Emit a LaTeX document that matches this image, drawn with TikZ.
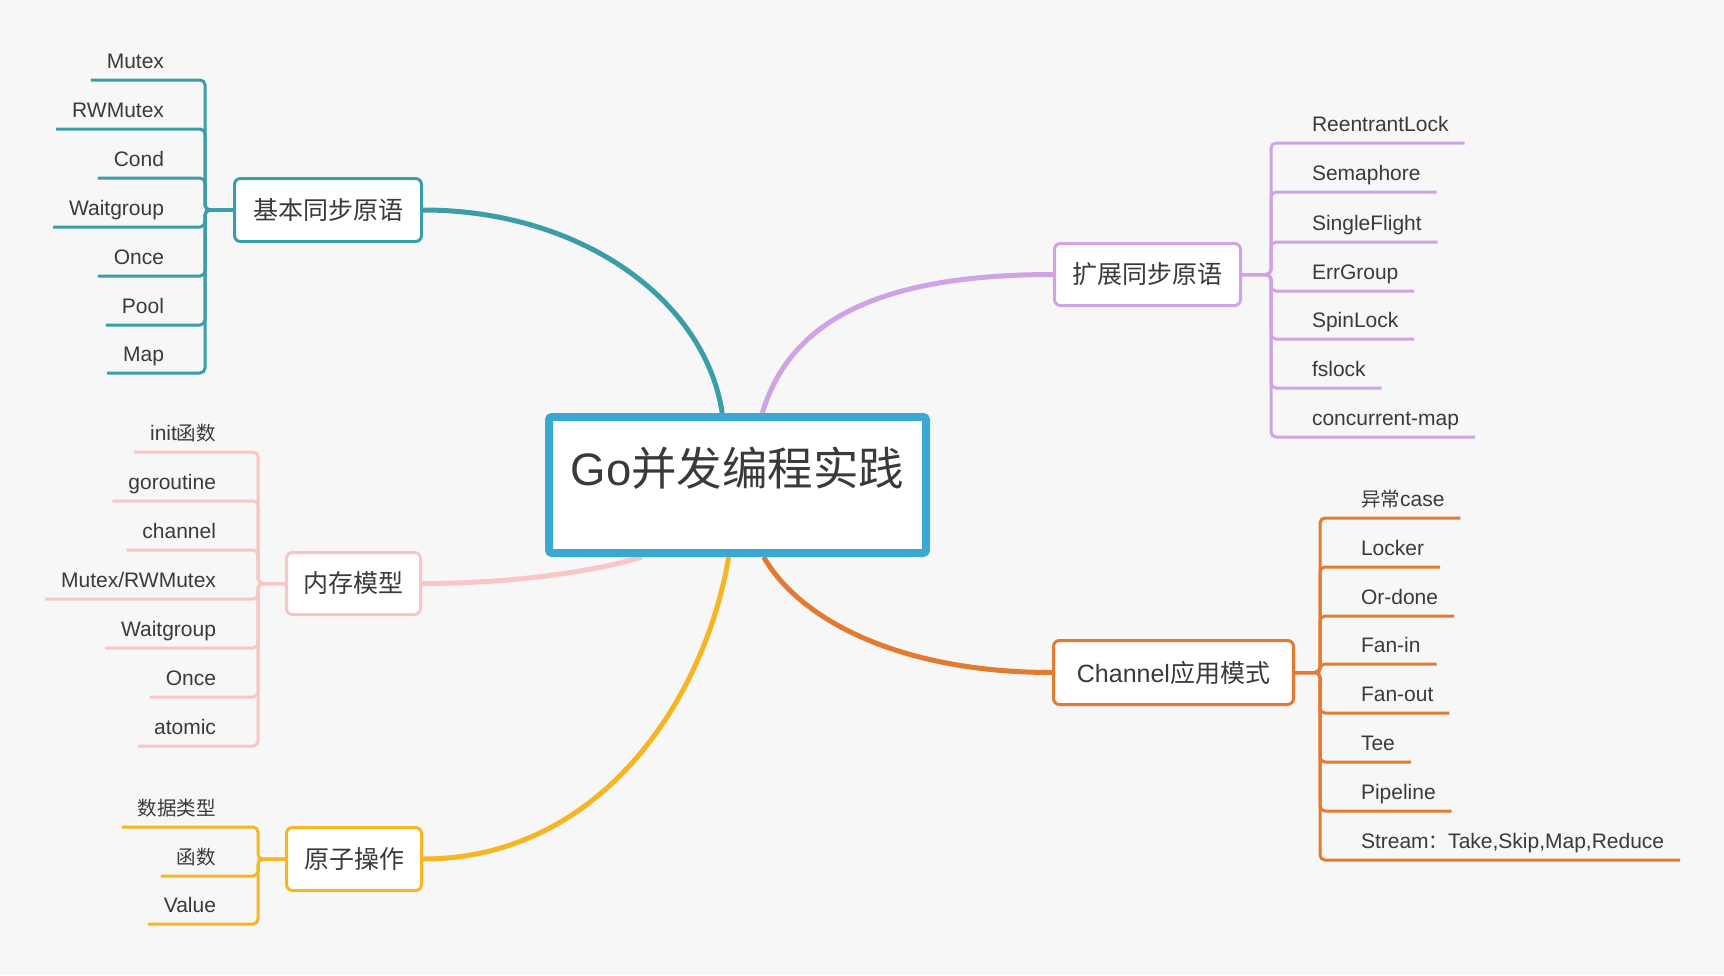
\documentclass[tikz,border=0pt]{standalone}
\usepackage{fontspec}
\setmainfont{Liberation Sans}
\newfontfamily\cjk{Noto Sans CJK SC}
\newfontfamily\cjkleaf[Scale=0.93]{Noto Sans CJK SC}
\usepackage{tikz}
\pgfdeclarelayer{bg}
\pgfsetlayers{bg,main}
\definecolor{paper}{HTML}{F7F7F7}
\definecolor{ink}{HTML}{3A3A3A}
\definecolor{rootblue}{HTML}{3BA8D1}
\definecolor{tealc}{HTML}{3A9DA8}
\definecolor{lilac}{HTML}{D0A2E6}
\definecolor{rose}{HTML}{F9C6C6}
\definecolor{amber}{HTML}{F6B624}
\definecolor{rust}{HTML}{E47A30}

\begin{document}
\begin{tikzpicture}[x=1pt, y=-1pt,
	topic/.style={draw=#1, line width=3pt, fill=white, rounded corners=6pt,
		text=ink, font=\fontsize{25}{30}\selectfont, inner sep=0pt},
	leaf/.style={text=ink, font=\fontsize{21}{25}\selectfont, inner xsep=16pt,
		inner ysep=7pt, outer sep=0pt, text height=15pt, text depth=5pt},
	twig/.style={draw=#1, line width=3pt, rounded corners=5pt},
	limb/.style={draw=#1, line width=5pt}]

\begin{pgfonlayer}{bg}
\useasboundingbox (0, 0) rectangle (1724, 975);
\fill[paper] (0, 0) rectangle (1724, 975);
\end{pgfonlayer}

% centre
\node[draw=rootblue, line width=8pt, fill=white, rounded corners=3pt,
	minimum width=377pt, minimum height=136pt, text=ink,
	font=\fontsize{45.5}{54}\selectfont, text height=30pt, text depth=30pt]
	(root) at (737.5, 485) {Go{\cjk 并发编程实践}};

% main topics
\node[topic=tealc, minimum width=187pt, minimum height=63pt]
	(b1) at (328, 210) {\cjk 基本同步原语};
\node[topic=lilac, minimum width=186pt, minimum height=62pt]
	(b2) at (1147.5, 274.5) {\cjk 扩展同步原语};
\node[topic=rose, minimum width=134pt, minimum height=62pt]
	(b3) at (353.5, 583.5) {\cjk 内存模型};
\node[topic=rust, minimum width=240pt, minimum height=64pt]
	(b4) at (1173.5, 672.5) {Channel{\cjk 应用模式}};
\node[topic=amber, minimum width=135pt, minimum height=63pt]
	(b5) at (354, 859) {\cjk 原子操作};

\begin{pgfonlayer}{bg}
\draw[limb=tealc] (b1.east) .. controls +(158, 0) and +(-17, -113) .. (root.102);
\draw[limb=lilac] (b2.west) .. controls +(-173, 0) and +(28, -93) .. (root.71);
\draw[limb=rose] (b3.east) .. controls +(98, 0) and +(-43, 13) .. (root.217);
\draw[limb=rust] (b4.west) .. controls +(-152, 0) and +(36, 63) .. (root.290);
\draw[limb=amber] (b5.east) .. controls +(177, 0) and +(-24, 143) .. (root.263);
\end{pgfonlayer}

% basic sync primitives
\node[leaf, anchor=south east] (t1) at (180, 80) {Mutex};
\node[leaf, anchor=south east] (t2) at (180, 129) {RWMutex};
\node[leaf, anchor=south east] (t3) at (180, 178) {Cond};
\node[leaf, anchor=south east] (t4) at (180, 227) {Waitgroup};
\node[leaf, anchor=south east] (t5) at (180, 276) {Once};
\node[leaf, anchor=south east] (t6) at (180, 325) {Pool};
\node[leaf, anchor=south east] (t7) at (180, 373) {Map};

\draw[twig=tealc] (b1.west) -- ++(-28, 0) |- (t1.south east) -- (t1.south west);
\draw[twig=tealc] (b1.west) -- ++(-28, 0) |- (t2.south east) -- (t2.south west);
\draw[twig=tealc] (b1.west) -- ++(-28, 0) |- (t3.south east) -- (t3.south west);
\draw[twig=tealc] (b1.west) -- ++(-28, 0) |- (t4.south east) -- (t4.south west);
\draw[twig=tealc] (b1.west) -- ++(-28, 0) |- (t5.south east) -- (t5.south west);
\draw[twig=tealc] (b1.west) -- ++(-28, 0) |- (t6.south east) -- (t6.south west);
\draw[twig=tealc] (b1.west) -- ++(-28, 0) |- (t7.south east) -- (t7.south west);

% extended sync primitives
\node[leaf, anchor=south west] (e1) at (1296, 143) {ReentrantLock};
\node[leaf, anchor=south west] (e2) at (1296, 192) {Semaphore};
\node[leaf, anchor=south west] (e3) at (1296, 242) {SingleFlight};
\node[leaf, anchor=south west] (e4) at (1296, 291) {ErrGroup};
\node[leaf, anchor=south west] (e5) at (1296, 339) {SpinLock};
\node[leaf, anchor=south west] (e6) at (1296, 388) {fslock};
\node[leaf, anchor=south west] (e7) at (1296, 437) {concurrent-map};

\draw[twig=lilac] (b2.east) -- ++(29, 0) |- (e1.south west) -- (e1.south east);
\draw[twig=lilac] (b2.east) -- ++(29, 0) |- (e2.south west) -- (e2.south east);
\draw[twig=lilac] (b2.east) -- ++(29, 0) |- (e3.south west) -- (e3.south east);
\draw[twig=lilac] (b2.east) -- ++(29, 0) |- (e4.south west) -- (e4.south east);
\draw[twig=lilac] (b2.east) -- ++(29, 0) |- (e5.south west) -- (e5.south east);
\draw[twig=lilac] (b2.east) -- ++(29, 0) |- (e6.south west) -- (e6.south east);
\draw[twig=lilac] (b2.east) -- ++(29, 0) |- (e7.south west) -- (e7.south east);

% memory model
\node[leaf, anchor=south east] (m1) at (232, 452) {init{\cjkleaf 函数}};
\node[leaf, anchor=south east] (m2) at (232, 501) {goroutine};
\node[leaf, anchor=south east] (m3) at (232, 550) {channel};
\node[leaf, anchor=south east] (m4) at (232, 599) {Mutex/RWMutex};
\node[leaf, anchor=south east] (m5) at (232, 648) {Waitgroup};
\node[leaf, anchor=south east] (m6) at (232, 697) {Once};
\node[leaf, anchor=south east] (m7) at (232, 746) {atomic};

\draw[twig=rose] (b3.west) -- ++(-27, 0) |- (m1.south east) -- (m1.south west);
\draw[twig=rose] (b3.west) -- ++(-27, 0) |- (m2.south east) -- (m2.south west);
\draw[twig=rose] (b3.west) -- ++(-27, 0) |- (m3.south east) -- (m3.south west);
\draw[twig=rose] (b3.west) -- ++(-27, 0) |- (m4.south east) -- (m4.south west);
\draw[twig=rose] (b3.west) -- ++(-27, 0) |- (m5.south east) -- (m5.south west);
\draw[twig=rose] (b3.west) -- ++(-27, 0) |- (m6.south east) -- (m6.south west);
\draw[twig=rose] (b3.west) -- ++(-27, 0) |- (m7.south east) -- (m7.south west);

% channel patterns
\node[leaf, anchor=south west] (c1) at (1345, 518) {{\cjkleaf 异常}case};
\node[leaf, anchor=south west] (c2) at (1345, 567) {Locker};
\node[leaf, anchor=south west] (c3) at (1345, 616) {Or-done};
\node[leaf, anchor=south west] (c4) at (1345, 664) {Fan-in};
\node[leaf, anchor=south west] (c5) at (1345, 713) {Fan-out};
\node[leaf, anchor=south west] (c6) at (1345, 762) {Tee};
\node[leaf, anchor=south west] (c7) at (1345, 811) {Pipeline};
\node[leaf, anchor=south west] (c8) at (1345, 860) {Stream{\cjkleaf ：}Take,Skip,Map,Reduce};

\draw[twig=rust] (b4.east) -- ++(25, 0) |- (c1.south west) -- (c1.south east);
\draw[twig=rust] (b4.east) -- ++(25, 0) |- (c2.south west) -- (c2.south east);
\draw[twig=rust] (b4.east) -- ++(25, 0) |- (c3.south west) -- (c3.south east);
\draw[twig=rust] (b4.east) -- ++(25, 0) |- (c4.south west) -- (c4.south east);
\draw[twig=rust] (b4.east) -- ++(25, 0) |- (c5.south west) -- (c5.south east);
\draw[twig=rust] (b4.east) -- ++(25, 0) |- (c6.south west) -- (c6.south east);
\draw[twig=rust] (b4.east) -- ++(25, 0) |- (c7.south west) -- (c7.south east);
\draw[twig=rust] (b4.east) -- ++(25, 0) |- (c8.south west) -- (c8.south east);

% atomic operations
\node[leaf, anchor=south east] (a1) at (232, 827) {\cjkleaf 数据类型};
\node[leaf, anchor=south east] (a2) at (232, 876) {\cjkleaf 函数};
\node[leaf, anchor=south east] (a3) at (232, 924) {Value};

\draw[twig=amber] (b5.west) -- ++(-27, 0) |- (a1.south east) -- (a1.south west);
\draw[twig=amber] (b5.west) -- ++(-27, 0) |- (a2.south east) -- (a2.south west);
\draw[twig=amber] (b5.west) -- ++(-27, 0) |- (a3.south east) -- (a3.south west);
\end{tikzpicture}
\end{document}
